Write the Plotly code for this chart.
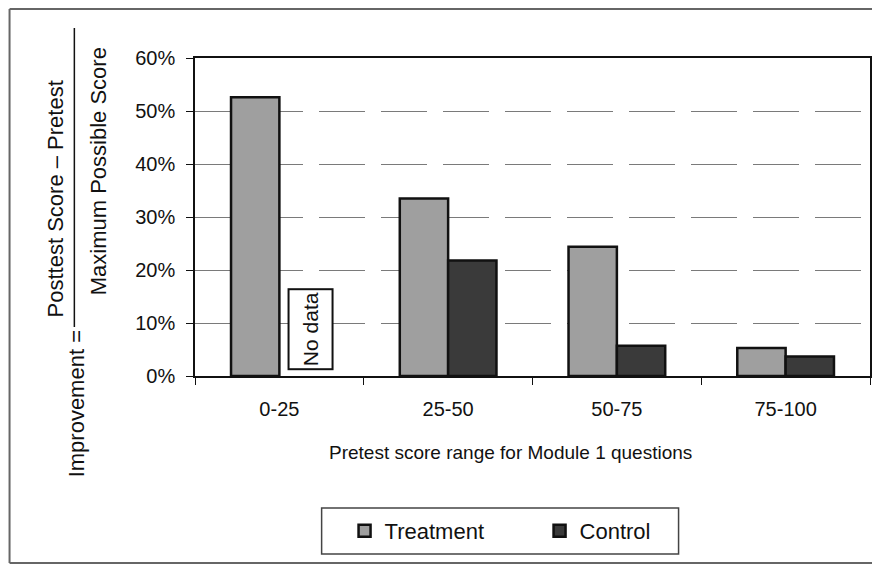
import plotly.graph_objects as go

# data
ranges = ["0-25", "25-50", "50-75", "75-100"]
treatment = [52.6, 33.5, 24.4, 5.3]
control = [None, 21.8, 5.7, 3.7]
y_ticks = [0, 10, 20, 30, 40, 50, 60]
y_labels = [f"{v}%" for v in y_ticks]

# the page body adds an 8px margin, so the figure is drawn 8px smaller
OFF = 8
W, H = 880 - OFF, 565 - OFF
ML, MR, MT, MB = 195 - OFF, 8, 58 - OFF, 565 - 376
FONT = "Liberation Sans, Arial, Helvetica, sans-serif"


def px_x(px):
    # reference pixel column -> paper x
    return (px - OFF - ML) / (W - ML - MR)


def px_y(py):
    # reference pixel row -> paper y
    return (H - MB - (py - OFF)) / (H - MT - MB)


fig = go.Figure()
fig.add_trace(go.Bar(x=ranges, y=treatment, name="Treatment",
                     marker=dict(color="#9f9f9f", line=dict(color="#111111", width=2.5))))
fig.add_trace(go.Bar(x=ranges, y=control, name="Control",
                     marker=dict(color="#3a3a3a", line=dict(color="#111111", width=2.5))))

fig.update_layout(
    width=W, height=H,
    margin=dict(l=ML, r=MR, t=MT, b=MB),
    paper_bgcolor="white", plot_bgcolor="white",
    font=dict(family=FONT, color="#111111", size=20),
    barmode="group", bargap=0.427, bargroupgap=0,
    showlegend=True,
    legend=dict(orientation="h", x=px_x(345), xanchor="left",
                y=px_y(531), yanchor="middle",
                font=dict(size=22), entrywidth=150, entrywidthmode="pixels",
                borderwidth=0, bgcolor="rgba(0,0,0,0)"),
)

fig.update_xaxes(
    type="category", showline=True, mirror=True, linecolor="#111111", linewidth=2,
    ticks="outside", tickson="boundaries", ticklen=7, tickcolor="#111111",
    ticklabelstandoff=14, tickfont=dict(size=20), showgrid=False,
)
fig.update_yaxes(
    range=[0, 60], tickmode="array", tickvals=y_ticks, ticktext=y_labels,
    showline=True, mirror=True, linecolor="#111111", linewidth=1.5,
    ticks="outside", ticklen=7, tickcolor="#111111", ticklabelstandoff=7,
    tickfont=dict(size=20),
    showgrid=True, gridcolor="#7a7a7a", gridwidth=1, griddash="46px,16px",
    zeroline=False,
)

# outer frame (open on the right, it runs off the picture there)
frame = dict(color="#666666", width=2)
fig.add_shape(type="line", xref="paper", yref="paper",
              x0=px_x(9), x1=px_x(960), y0=px_y(9), y1=px_y(9), line=frame)
fig.add_shape(type="line", xref="paper", yref="paper",
              x0=px_x(9), x1=px_x(960), y0=px_y(563), y1=px_y(563), line=frame)
fig.add_shape(type="line", xref="paper", yref="paper",
              x0=px_x(9), x1=px_x(9), y0=px_y(563), y1=px_y(9), line=frame)
# legend box
fig.add_shape(type="rect", xref="paper", yref="paper",
              x0=px_x(322), x1=px_x(680), y0=px_y(554), y1=px_y(508),
              line=dict(color="#444444", width=1.5))
# fraction bar of the y-axis title
fig.add_shape(type="line", xref="paper", yref="paper",
              x0=px_x(74), x1=px_x(74), y0=px_y(327), y1=px_y(28),
              line=dict(color="#111111", width=1.5))

title_parts = [
    ("Posttest Score \u2013 Pretest", 55, 199),
    ("Maximum Possible Score", 98, 171),
    ("Improvement =", 76, 404),
]
for txt, cx, cy in title_parts:
    fig.add_annotation(text=txt, xref="paper", yref="paper",
                       x=px_x(cx), y=px_y(cy), xanchor="center", yanchor="middle",
                       textangle=-90, showarrow=False, font=dict(size=22))

# x-axis title (sits a little left of the plot centre in the reference)
fig.add_annotation(text="Pretest score range for Module 1 questions",
                   xref="paper", yref="paper", x=px_x(511), y=px_y(452),
                   xanchor="center", yanchor="middle", showarrow=False,
                   font=dict(size=19))

# "No data" marker in place of the missing control bar
fig.add_annotation(text="No data", x=ranges[0], y=8.9, xref="x", yref="y",
                   xanchor="center", yanchor="middle",
                   xshift=31, textangle=-90, showarrow=False,
                   width=78, height=42, borderpad=0,
                   bgcolor="white", bordercolor="#111111", borderwidth=2,
                   font=dict(size=21))

fig.write_html("out.html")
